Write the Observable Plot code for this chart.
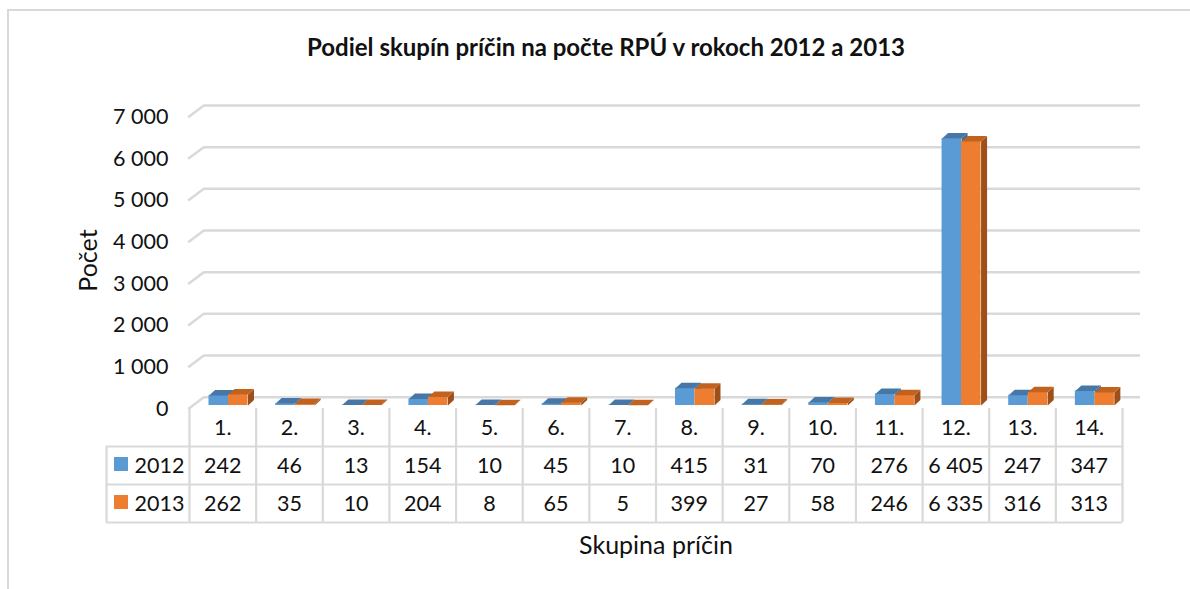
<!DOCTYPE html>
<html>
<head>
<meta charset="utf-8">
<script src="https://cdn.jsdelivr.net/npm/d3@7"></script>
<script src="https://cdn.jsdelivr.net/npm/@observablehq/plot@0.6"></script>
<style>
  html, body { margin: 0; padding: 0; background: #fff; overflow: hidden; }
  #wrap { position: relative; width: 1190px; height: 589px; }
  #wrap svg { position: absolute; left: 0; }
  #border { position: absolute; left: 7px; top: 9px; width: 1200px; height: 600px;
            border: 2px solid #d9d9d9; pointer-events: none; }
</style>
</head>
<body>
<div id="wrap"></div>
<script>
// ---- data ----
const categories = ["1.", "2.", "3.", "4.", "5.", "6.", "7.", "8.", "9.", "10.", "11.", "12.", "13.", "14."];
const series = ["2012", "2013"];
const values2012 = [242, 46, 13, 154, 10, 45, 10, 415, 31, 70, 276, 6405, 247, 347];
const values2013 = [262, 35, 10, 204, 8, 65, 5, 399, 27, 58, 246, 6335, 316, 313];
const yTicks = [0, 1000, 2000, 3000, 4000, 5000, 6000, 7000];
const title = "Podiel skupín príčin na počte RPÚ v rokoch 2012 a 2013";
const yTitle = "Počet";
const xTitle = "Skupina príčin";

// ---- style ----
const FONT = "Lato";
const TEXT = "#111";
const GRID = "#d9d9d9";
const colors = {
  "2012": {front: "#5b9bd5", top: "#4677a6", side: "#3f6d99"},
  "2013": {front: "#ed7d31", top: "#c1621f", side: "#9f501a"}
};

const fmt = d3.formatLocale({decimal: ",", thousands: "\u00a0", grouping: [3], currency: ["", ""]}).format(",d");

// ---- geometry (pixel layout) ----
const W = 1190;
const X0 = 189, X1 = 1122;            // plot / table column span
const PX = categories.length / (X1 - X0); // x units per pixel
const Y0 = 405, Y7 = 113.3;           // bar plane: 0 and 7000
const KY = 7000 / (Y0 - Y7);          // y units per pixel
const depthDX = 6 * PX, depthDY = 5.5 * KY;   // bar 3D depth
const barOff = 19.5 * PX, barW = 19.5 * PX;

const rows = categories.map((c, i) => ({i, c, v2012: values2012[i], v2013: values2013[i]}));

function bars(key, k) {
  const list = rows.map(d => ({i: d.i, v: d[key], x1: d.i + barOff + k * barW, x2: d.i + barOff + (k + 1) * barW}));
  const tops = [], sides = [];
  list.forEach(b => {
    const id = b.i;
    tops.push({id, x: b.x1, y: b.v}, {id, x: b.x2, y: b.v}, {id, x: b.x2 + depthDX, y: b.v + depthDY}, {id, x: b.x1 + depthDX, y: b.v + depthDY});
    sides.push({id, x: b.x2, y: 0}, {id, x: b.x2, y: b.v}, {id, x: b.x2 + depthDX, y: b.v + depthDY}, {id, x: b.x2 + depthDX, y: depthDY});
  });
  const c = colors[series[k]];
  return [
    Plot.rect(list, {x1: "x1", x2: "x2", y1: 0, y2: "v", fill: c.front}),
    Plot.line(sides, {x: "x", y: "y", z: "id", fill: c.side, stroke: "none"}),
    Plot.line(tops, {x: "x", y: "y", z: "id", fill: c.top, stroke: "none"})
  ];
}

const chartH = 408;
const chart = Plot.plot({
  width: W, height: chartH,
  marginLeft: X0, marginRight: W - X1, marginTop: Y7, marginBottom: chartH - Y0,
  style: {fontFamily: FONT, background: "transparent", color: TEXT, overflow: "visible"},
  x: {type: "linear", domain: [0, categories.length], axis: null},
  y: {type: "linear", domain: [0, 7000], axis: null},
  marks: [
    // back wall gridlines
    Plot.ruleY(yTicks, {y: d => d, x1: 14.3 * PX, x2: (1140 - X0) * PX, dy: -8.3, stroke: GRID, strokeWidth: 2.5}),
    // side wall diagonals
    Plot.link(yTicks, {x1: -1.3 * PX, x2: 14.3 * PX, y1: d => d - 3.4 * KY, y2: d => d + 8.3 * KY, stroke: GRID, strokeWidth: 2.5}),
    ...bars("v2012", 0),
    ...bars("v2013", 1),
    Plot.text(yTicks, {x: 0, y: d => d, text: d => fmt(d), textAnchor: "end", dx: -21, dy: 3.4, fontSize: 21.5, fill: TEXT}),
    Plot.text([yTitle], {x: 0, y: (Y0 - 260) * KY, text: d => d, textAnchor: "middle", lineAnchor: "middle", dx: -101, rotate: -90, fontSize: 25, fill: TEXT}),
    Plot.text([title], {frameAnchor: "top", textAnchor: "middle", lineAnchor: "middle", dx: -50, dy: -65, fontSize: 24, fontWeight: "bold", fill: TEXT})
  ]
});
chart.style.top = "0px";

// ---- data table ----
const tableH = 589 - chartH;
const LEFTX = (106 - X0) * PX;
const rowH = 38;
const colBounds = d3.range(0, categories.length + 1);
const tableCells = [];
rows.forEach(d => {
  tableCells.push({x: d.i + 0.5, y: 1.5, t: fmt(d.v2012)});
  tableCells.push({x: d.i + 0.5, y: 2.5, t: fmt(d.v2013)});
});
const table = Plot.plot({
  width: W, height: tableH,
  marginLeft: X0, marginRight: W - X1, marginTop: 0, marginBottom: 0,
  style: {fontFamily: FONT, background: "transparent", color: TEXT, overflow: "visible"},
  x: {type: "linear", domain: [0, categories.length], axis: null},
  y: {type: "linear", domain: [0, 3], range: [0, 3 * rowH], axis: null},
  marks: [
    Plot.ruleY([1, 2, 3], {y: d => d, x1: LEFTX, x2: categories.length, stroke: GRID, strokeWidth: 2.2}),
    Plot.ruleX(colBounds, {x: d => d, y1: 0, y2: 3, stroke: GRID, strokeWidth: 2.2}),
    Plot.ruleX([LEFTX], {x: d => d, y1: 1, y2: 3, stroke: GRID, strokeWidth: 2.2}),
    Plot.text(categories, {x: (d, i) => i + 0.5, y: 0.5, text: d => d, fontSize: 21.5, fill: TEXT, dy: 1}),
    Plot.text(tableCells, {x: "x", y: "y", text: "t", fontSize: 21.5, fill: TEXT, dy: 1}),
    Plot.rect(series, {x1: LEFTX + 8 * PX, x2: LEFTX + 22 * PX, y1: (d, i) => 1.5 + i - 8 / rowH, y2: (d, i) => 1.5 + i + 6 / rowH, fill: d => colors[d].front}),
    Plot.text(series, {x: LEFTX, y: (d, i) => 1.5 + i, text: d => d, textAnchor: "start", dx: 28, dy: 1, fontSize: 21.5, fill: TEXT}),
    Plot.text([xTitle], {x: categories.length / 2, y: 137 / rowH, text: d => d, fontSize: 25, fill: TEXT})
  ]
});
table.style.top = chartH + "px";

const wrap = document.getElementById("wrap");
wrap.appendChild(chart);
wrap.appendChild(table);
const border = document.createElement("div");
border.id = "border";
wrap.appendChild(border);
</script>
</body>
</html>
